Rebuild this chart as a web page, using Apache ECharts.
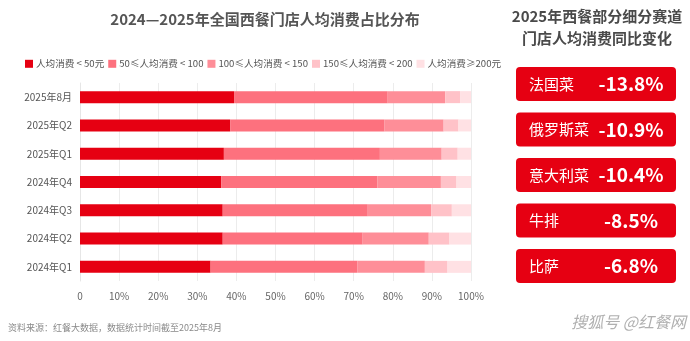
<!DOCTYPE html>
<html><head><meta charset="utf-8">
<script src="https://cdn.jsdelivr.net/npm/echarts@6/dist/echarts.min.js"></script>
<style>html,body{margin:0;padding:0;background:#fff}#c{width:690px;height:341px}</style>
</head><body><div id="c"></div>
<script>
const categories = ['2025年8月','2025年Q2','2025年Q1','2024年Q4','2024年Q3','2024年Q2','2024年Q1'];
const seriesNames = ['人均消费 < 50元','50≤人均消费 < 100','100≤人均消费 < 150','150≤人均消费 < 200','人均消费≥200元'];
const lt50   = [39.4, 38.4, 36.8, 36.1, 36.5, 36.5, 33.4];
const s50_100 = [39.3, 39.5, 39.9, 40.0, 37.1, 35.8, 37.5];
const s100_150 = [14.7, 15.1, 15.8, 16.2, 16.2, 16.9, 17.3];
const s150_200 = [3.8, 3.8, 4.1, 4.0, 5.3, 5.3, 5.8];
const ge200 = [2.8, 3.2, 3.4, 3.7, 4.9, 5.5, 6.0];
const xTicks = ['0','10%','20%','30%','40%','50%','60%','70%','80%','90%','100%'];
const cuisines = ['法国菜','俄罗斯菜','意大利菜','牛排','比萨'];
const yoy = ['-13.8%','-10.9%','-10.4%','-8.5%','-6.8%'];

const colors = ['#e60012','#fd717e','#fe8e98','#ffc2c8','#ffe1e4'];
const allData = [lt50, s50_100, s100_150, s150_200, ge200];
const font = '"Noto Sans CJK SC", "Noto Sans", sans-serif';

const graphics = [];
graphics.push({type:'text', x:597, y:5, style:{text:'2025年西餐部分细分赛道\n门店人均消费同比变化', font:'bold 15px '+font, fill:'#4a4a4a', align:'center', lineHeight:22}});
cuisines.forEach((n,i)=>{
  const top = 67 + i*45.5;
  graphics.push({type:'rect', shape:{x:516,y:top,width:160,height:34,r:4}, style:{fill:'#e60012'}});
  graphics.push({type:'text', x:529, y:top+17, style:{text:n, font:'15px '+font, fill:'#fff', verticalAlign:'middle'}});
  graphics.push({type:'text', x:631, y:top+17, style:{text:yoy[i], font:'bold 19px '+font, fill:'#fff', align:'center', verticalAlign:'middle'}});
});
graphics.push({type:'text', x:8, y:323, style:{text:'资料来源：红餐大数据，数据统计时间截至2025年8月', font:'9px '+font, fill:'#8a8a8a'}});
graphics.push({type:'text', x:686, y:322, style:{text:'搜狐号 @红餐网', font:'italic 16px '+font, fill:'#b0b0b0', align:'right', verticalAlign:'middle'}});

const chart = echarts.init(document.getElementById('c'), null, {renderer:'canvas'});
chart.setOption({
  animation:false,
  title:{text:'2024—2025年全国西餐门店人均消费占比分布', left:260, textAlign:'center', top:7,
    textStyle:{fontFamily:font, fontSize:15, fontWeight:'bold', color:'#555'}},
  legend:{data:seriesNames, left:20, top:54, itemWidth:8, itemHeight:8, itemGap:4, icon:'rect',
    textStyle:{fontFamily:font, fontSize:9.6, color:'#555', padding:[0,0,0,-2]}},
  grid:{left:80, right:219, top:83, height:198, containLabel:false},
  xAxis:{type:'value', min:0, max:100, interval:10,
    axisLabel:{formatter:(v)=>xTicks[Math.round(v/10)], fontFamily:font, fontSize:10, color:'#666', margin:10},
    splitLine:{show:true, lineStyle:{color:'#ececec'}}, axisLine:{show:false}, axisTick:{show:false}},
  yAxis:{type:'category', data:categories, inverse:true,
    axisLabel:{fontFamily:font, fontSize:10, color:'#555', margin:8},
    axisLine:{show:true, lineStyle:{color:'#e6e6e6'}}, axisTick:{show:false}},
  series: seriesNames.map((n,i)=>({name:n, type:'bar', stack:'t', data:allData[i], barWidth:12,
    itemStyle:{color:colors[i]}})),
  graphic: graphics
});
</script></body></html>
